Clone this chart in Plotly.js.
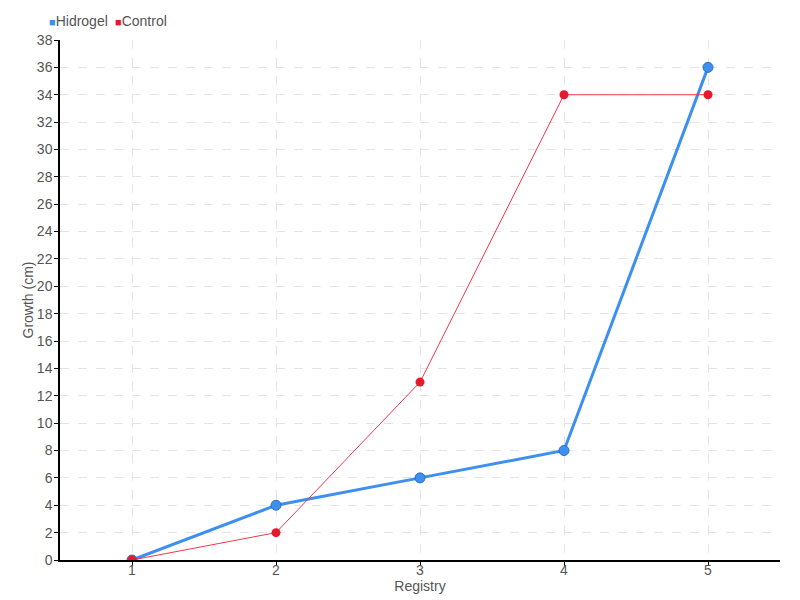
<!DOCTYPE html>
<html><head><meta charset="utf-8">
<script src="https://cdn.plot.ly/plotly-3.0.1.min.js"></script>
<style>body{margin:0}#c{width:800px;height:600px}</style>
</head><body><div id="c"></div>
<script>
const registry = [1, 2, 3, 4, 5];
const hidrogel = [0, 4, 6, 8, 36];
const control = [0, 2, 13, 34, 34];
const seriesNames = ['Hidrogel', 'Control'];
const yTicks = [];
for (let v = 0; v <= 38; v += 2) yTicks.push(v);

const fontFam = '"Liberation Sans", sans-serif';
const blue = '#3d8ff0', red = '#e8192c';
const colors = [blue, red];
const traces = [
  {x: registry, y: hidrogel, name: seriesNames[0], type: 'scatter', mode: 'lines+markers',
   line: {color: blue, width: 3},
   marker: {color: blue, size: 10, line: {color: '#2a6fc4', width: 1}}},
  {x: registry, y: control, name: seriesNames[1], type: 'scatter', mode: 'lines+markers',
   line: {color: '#f0384a', width: 1},
   marker: {color: red, size: 9, line: {width: 0}}}
];
const legendX = [47, 113];
const annotations = seriesNames.map((n, i) => ({
  xref: 'paper', yref: 'paper', x: (legendX[i] - 60) / 720, y: 1 + (40 - 21) / 520,
  xanchor: 'left', yanchor: 'middle', showarrow: false,
  text: '<span style="color:' + colors[i] + ';font-size:11px">■</span>' + n,
  font: {size: 14, color: '#555'}
}));
const layout = {
  width: 800, height: 600,
  margin: {l: 60, r: 20, t: 40, b: 40, autoexpand: false},
  paper_bgcolor: '#fff', plot_bgcolor: '#fff',
  font: {family: fontFam, size: 14, color: '#555'},
  showlegend: false,
  annotations: annotations,
  xaxis: {range: [0.5, 5.5], tickvals: registry, ticktext: registry.map(String),
          showline: true, linecolor: '#000', linewidth: 1.5, ticks: 'outside', ticklen: 4, tickcolor: '#000',
          ticklabelstandoff: -8,
          showgrid: true, gridcolor: '#e4e4e4', griddash: 'dash', zeroline: false,
          title: {text: 'Registry', standoff: 0, font: {size: 14, color: '#555'}}},
  yaxis: {range: [0, 38], tickvals: yTicks, showline: true, linecolor: '#000', linewidth: 1.5,
          ticks: 'outside', ticklen: 4, tickcolor: '#000', ticklabelstandoff: -1,
          showgrid: true, gridcolor: '#e4e4e4', griddash: 'dash', zeroline: false,
          title: {text: 'Growth (cm)', standoff: 0, font: {size: 14, color: '#555'}}}
};
Plotly.newPlot('c', traces, layout, {displayModeBar: false});
</script></body></html>
